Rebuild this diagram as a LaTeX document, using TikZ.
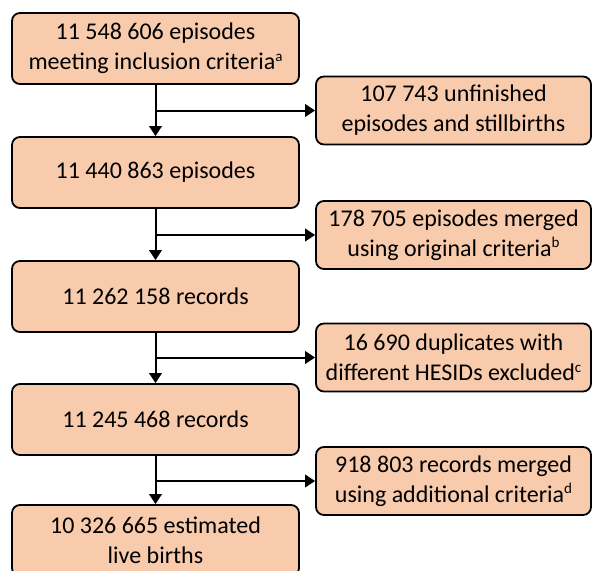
\documentclass[tikz,border=0pt]{standalone}
\usepackage{fontspec}
\setmainfont{Carlito}
\usepackage{xcolor}
\usetikzlibrary{arrows.meta, positioning, calc}
\definecolor{boxfill}{HTML}{F8CBAD}
\newcommand{\fnmark}[1]{\raisebox{0.35em}{\fontsize{15}{15}\selectfont #1}}

\begin{document}
\begin{tikzpicture}[x=1pt, y=-1pt,
    >={Triangle[length=10pt,width=12.5pt]},
    stage/.style={draw, line width=1.8pt, fill=boxfill, rounded corners=8pt,
      minimum width=287pt, minimum height=71pt, align=center,
      font=\fontsize{24}{30}\selectfont, inner sep=0pt},
    drop/.style={stage, minimum width=275pt, minimum height=68pt},
    flow/.style={line width=2pt}]
      \useasboundingbox (0,0) rectangle (593,570);

      \node [stage] (e1) at (155.5,48.5) {11 548 606 episodes\\meeting inclusion criteria\fnmark{a}};
      \node [stage] (e2) at (155.5,172.5) {11 440 863 episodes};
      \node [stage] (r1) at (155.5,296.5) {11 262 158 records};
      \node [stage] (r2) at (155.5,419.5) {11 245 468 records};
      \node [stage] (lb) at (155.5,540.5) {10 326 665 estimated\\live births};

      \node [drop] (x1) at (453.5,110.5) {107 743 unfinished\\episodes and stillbirths};
      \node [drop] (x2) at (453.5,235) {178 705 episodes merged\\using original criteria\fnmark{b}};
      \node [drop] (x3) at (453.5,357.5) {16 690 duplicates with\\different HESIDs excluded\fnmark{c}};
      \node [drop] (x4) at (453.5,481) {918 803 records merged\\using additional criteria\fnmark{d}};

      % main flow
      \draw [flow,->] (e1) -- (e2);
      \draw [flow,->] (e2) -- (r1);
      \draw [flow,->] (r1) -- (r2);
      \draw [flow,->] (r2) -- (lb);

      % exclusions
      \draw [flow,->] (e1.south |- x1.west) -- (x1.west);
      \draw [flow,->] (e2.south |- x2.west) -- (x2.west);
      \draw [flow,->] (r1.south |- x3.west) -- (x3.west);
      \draw [flow,->] (r2.south |- x4.west) -- (x4.west);
    \end{tikzpicture}
\end{document}
